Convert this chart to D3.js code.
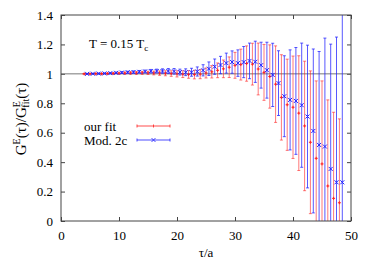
<!DOCTYPE html>
<html><head><meta charset="utf-8">
<script src="https://cdn.jsdelivr.net/npm/d3@7"></script>
<style>
html,body{margin:0;padding:0;background:#fff;}
svg{display:block;font-family:"Liberation Serif","DejaVu Serif",serif;}
</style></head>
<body><svg id="c" width="374" height="262"></svg>
<script>
// ---- data ----
const redTau = d3.range(4, 49);
const redVal = [1.000,1.000,1.001,1.001,1.002,1.003,1.004,1.005,1.006,1.006,1.007,1.007,1.006,1.005,1.004,1.002,
  1.000,0.998,0.996,0.995,0.998,1.006,1.014,1.024,1.034,1.045,1.058,1.063,1.070,1.066,1.033,1.010,0.982,0.930,
  0.840,0.790,0.773,0.733,0.646,0.535,0.426,0.388,0.238,0.154,0.124];
const redErr = [0.002,0.002,0.003,0.003,0.004,0.005,0.006,0.007,0.008,0.009,0.010,0.011,0.013,0.015,0.017,0.019,
  0.021,0.023,0.026,0.029,0.031,0.034,0.042,0.050,0.060,0.070,0.088,0.105,0.120,0.142,0.176,0.190,0.215,0.260,
  0.290,0.310,0.348,0.390,0.440,0.485,0.526,0.564,0.585,0.585,0.570];
const blueTau = d3.range(4.5, 49, 1);
const blueVal = [1.000,1.001,1.002,1.003,1.005,1.007,1.009,1.011,1.012,1.014,1.016,1.018,1.019,1.019,1.019,1.017,
  1.012,1.011,1.011,1.016,1.024,1.035,1.049,1.060,1.073,1.080,1.073,1.080,1.088,1.082,1.059,1.025,0.993,0.937,
  0.848,0.823,0.816,0.787,0.710,0.612,0.517,0.506,0.354,0.263,0.263];
const blueErr = [0.002,0.002,0.003,0.003,0.004,0.005,0.006,0.007,0.008,0.009,0.010,0.012,0.013,0.015,0.017,0.019,
  0.020,0.023,0.027,0.031,0.038,0.046,0.052,0.059,0.068,0.076,0.090,0.106,0.121,0.140,0.156,0.190,0.215,0.220,
  0.275,0.340,0.363,0.422,0.485,0.557,0.635,0.737,0.848,0.987,1.300];
const xTicks = [0,10,20,30,40,50];
const yTicks = [0,0.2,0.4,0.6,0.8,1,1.2,1.4];
const seriesNames = ["our fit","Mod. 2c"];

// ---- layout ----
const svg = d3.select("#c");
const L = 61, R = 351, T = 15, B = 221;
const x = d3.scaleLinear().domain([0,50]).range([L,R]);
const y = d3.scaleLinear().domain([0,1.4]).range([B,T]);
const red = "#ff2020", blue = "#2020ff";
const border = "#444";

svg.append("defs").append("clipPath").attr("id","clip")
  .append("rect").attr("x",L).attr("y",T).attr("width",R-L).attr("height",B-T);

// axes
const fmt = d => d3.format("")(+d.toFixed(1));
function styleAxis(g){
  g.attr("font-family",null);
  g.select(".domain").remove();
  g.selectAll(".tick line").attr("stroke",border);
  g.selectAll("text").attr("fill","#000").style("font-size","13px").style("font-family","'Liberation Serif', serif");
}
svg.append("g").attr("transform",`translate(0,${B})`)
  .call(d3.axisBottom(x).tickValues(xTicks).tickSize(-4).tickPadding(9.5).tickFormat(d3.format("d"))).call(styleAxis);
svg.append("g").attr("transform",`translate(0,${T})`)
  .call(d3.axisTop(x).tickValues(xTicks).tickSize(-4).tickFormat("")).call(styleAxis);
svg.append("g").attr("transform",`translate(${L},0)`)
  .call(d3.axisLeft(y).tickValues(yTicks).tickSize(-4).tickPadding(8).tickFormat(fmt)).call(styleAxis);
svg.append("g").attr("transform",`translate(${R},0)`)
  .call(d3.axisRight(y).tickValues(yTicks).tickSize(-4).tickFormat("")).call(styleAxis);

// reference line at 1
svg.append("line").attr("x1",L).attr("x2",R).attr("y1",y(1)).attr("y2",y(1))
  .attr("stroke","#777").attr("stroke-width",1);

// data
const plot = svg.append("g").attr("clip-path","url(#clip)");
function drawSeries(tau, val, err, color, marker, op){
  const g = plot.append("g").attr("stroke",color).attr("stroke-width",1).attr("fill","none").attr("stroke-opacity",op);
  tau.forEach((t,i)=>{
    const cx = x(t), lo = y(val[i]-err[i]), hi = y(val[i]+err[i]), cy = y(val[i]);
    g.append("line").attr("x1",cx).attr("x2",cx).attr("y1",lo).attr("y2",hi);
    g.append("line").attr("x1",cx-1.5).attr("x2",cx+1.5).attr("y1",lo).attr("y2",lo);
    g.append("line").attr("x1",cx-1.5).attr("x2",cx+1.5).attr("y1",hi).attr("y2",hi);
    if(marker==="+"){
      g.append("path").attr("d",`M${cx-1.5},${cy}H${cx+1.5}M${cx},${cy-1.5}V${cy+1.5}`).attr("stroke-opacity",1);
    } else {
      g.append("path").attr("d",`M${cx-2},${cy-2}L${cx+2},${cy+2}M${cx-2},${cy+2}L${cx+2},${cy-2}`).attr("stroke-opacity",1);
    }
  });
}
drawSeries(redTau, redVal, redErr, red, "+", 0.6);
drawSeries(blueTau, blueVal, blueErr, blue, "x", 0.75);

// border
svg.append("rect").attr("x",L).attr("y",T).attr("width",R-L).attr("height",B-T)
  .attr("fill","none").attr("stroke",border).attr("stroke-width",1);

// legend
const legY = [126,140], legColors=[red,blue], legMarks=["+","x"];
seriesNames.forEach((n,i)=>{
  svg.append("text").attr("x",84).attr("y",legY[i]+4.5).attr("font-size",13).text(n);
  const g = svg.append("g").attr("stroke",legColors[i]).attr("stroke-width",1).attr("stroke-opacity",0.8);
  const x1=137, x2=170, xm=153.5, yy=legY[i];
  g.append("line").attr("x1",x1).attr("x2",x2).attr("y1",yy).attr("y2",yy);
  g.append("line").attr("x1",x1).attr("x2",x1).attr("y1",yy-1.5).attr("y2",yy+1.5);
  g.append("line").attr("x1",x2).attr("x2",x2).attr("y1",yy-1.5).attr("y2",yy+1.5);
  if(legMarks[i]==="+") g.append("path").attr("d",`M${xm},${yy-1.5}V${yy+1.5}`);
  else g.append("path").attr("d",`M${xm-2},${yy-2}L${xm+2},${yy+2}M${xm-2},${yy+2}L${xm+2},${yy-2}`);
});

// annotation
const ann = svg.append("text").attr("x",89).attr("y",48).attr("font-size",13);
ann.append("tspan").text("T = 0.15 T");
ann.append("tspan").attr("font-size",9).attr("dy",3).text("c");

// axis titles
svg.append("text").attr("x",206).attr("y",257).attr("text-anchor","middle").attr("font-size",13).text("τ/a");
const yl = svg.append("text").attr("transform","translate(26,119) rotate(-90)").attr("text-anchor","middle").attr("font-size",15);
yl.append("tspan").text("G");
yl.append("tspan").attr("font-size",10).attr("dy",-6).text("E");
yl.append("tspan").attr("dy",6).text("(τ)/G");
yl.append("tspan").attr("font-size",10).attr("dy",-6).text("E");
yl.append("tspan").attr("font-size",10).attr("dx",-6.5).attr("dy",9).text("fit");
yl.append("tspan").attr("dy",-3).text("(τ)");
</script></body></html>
